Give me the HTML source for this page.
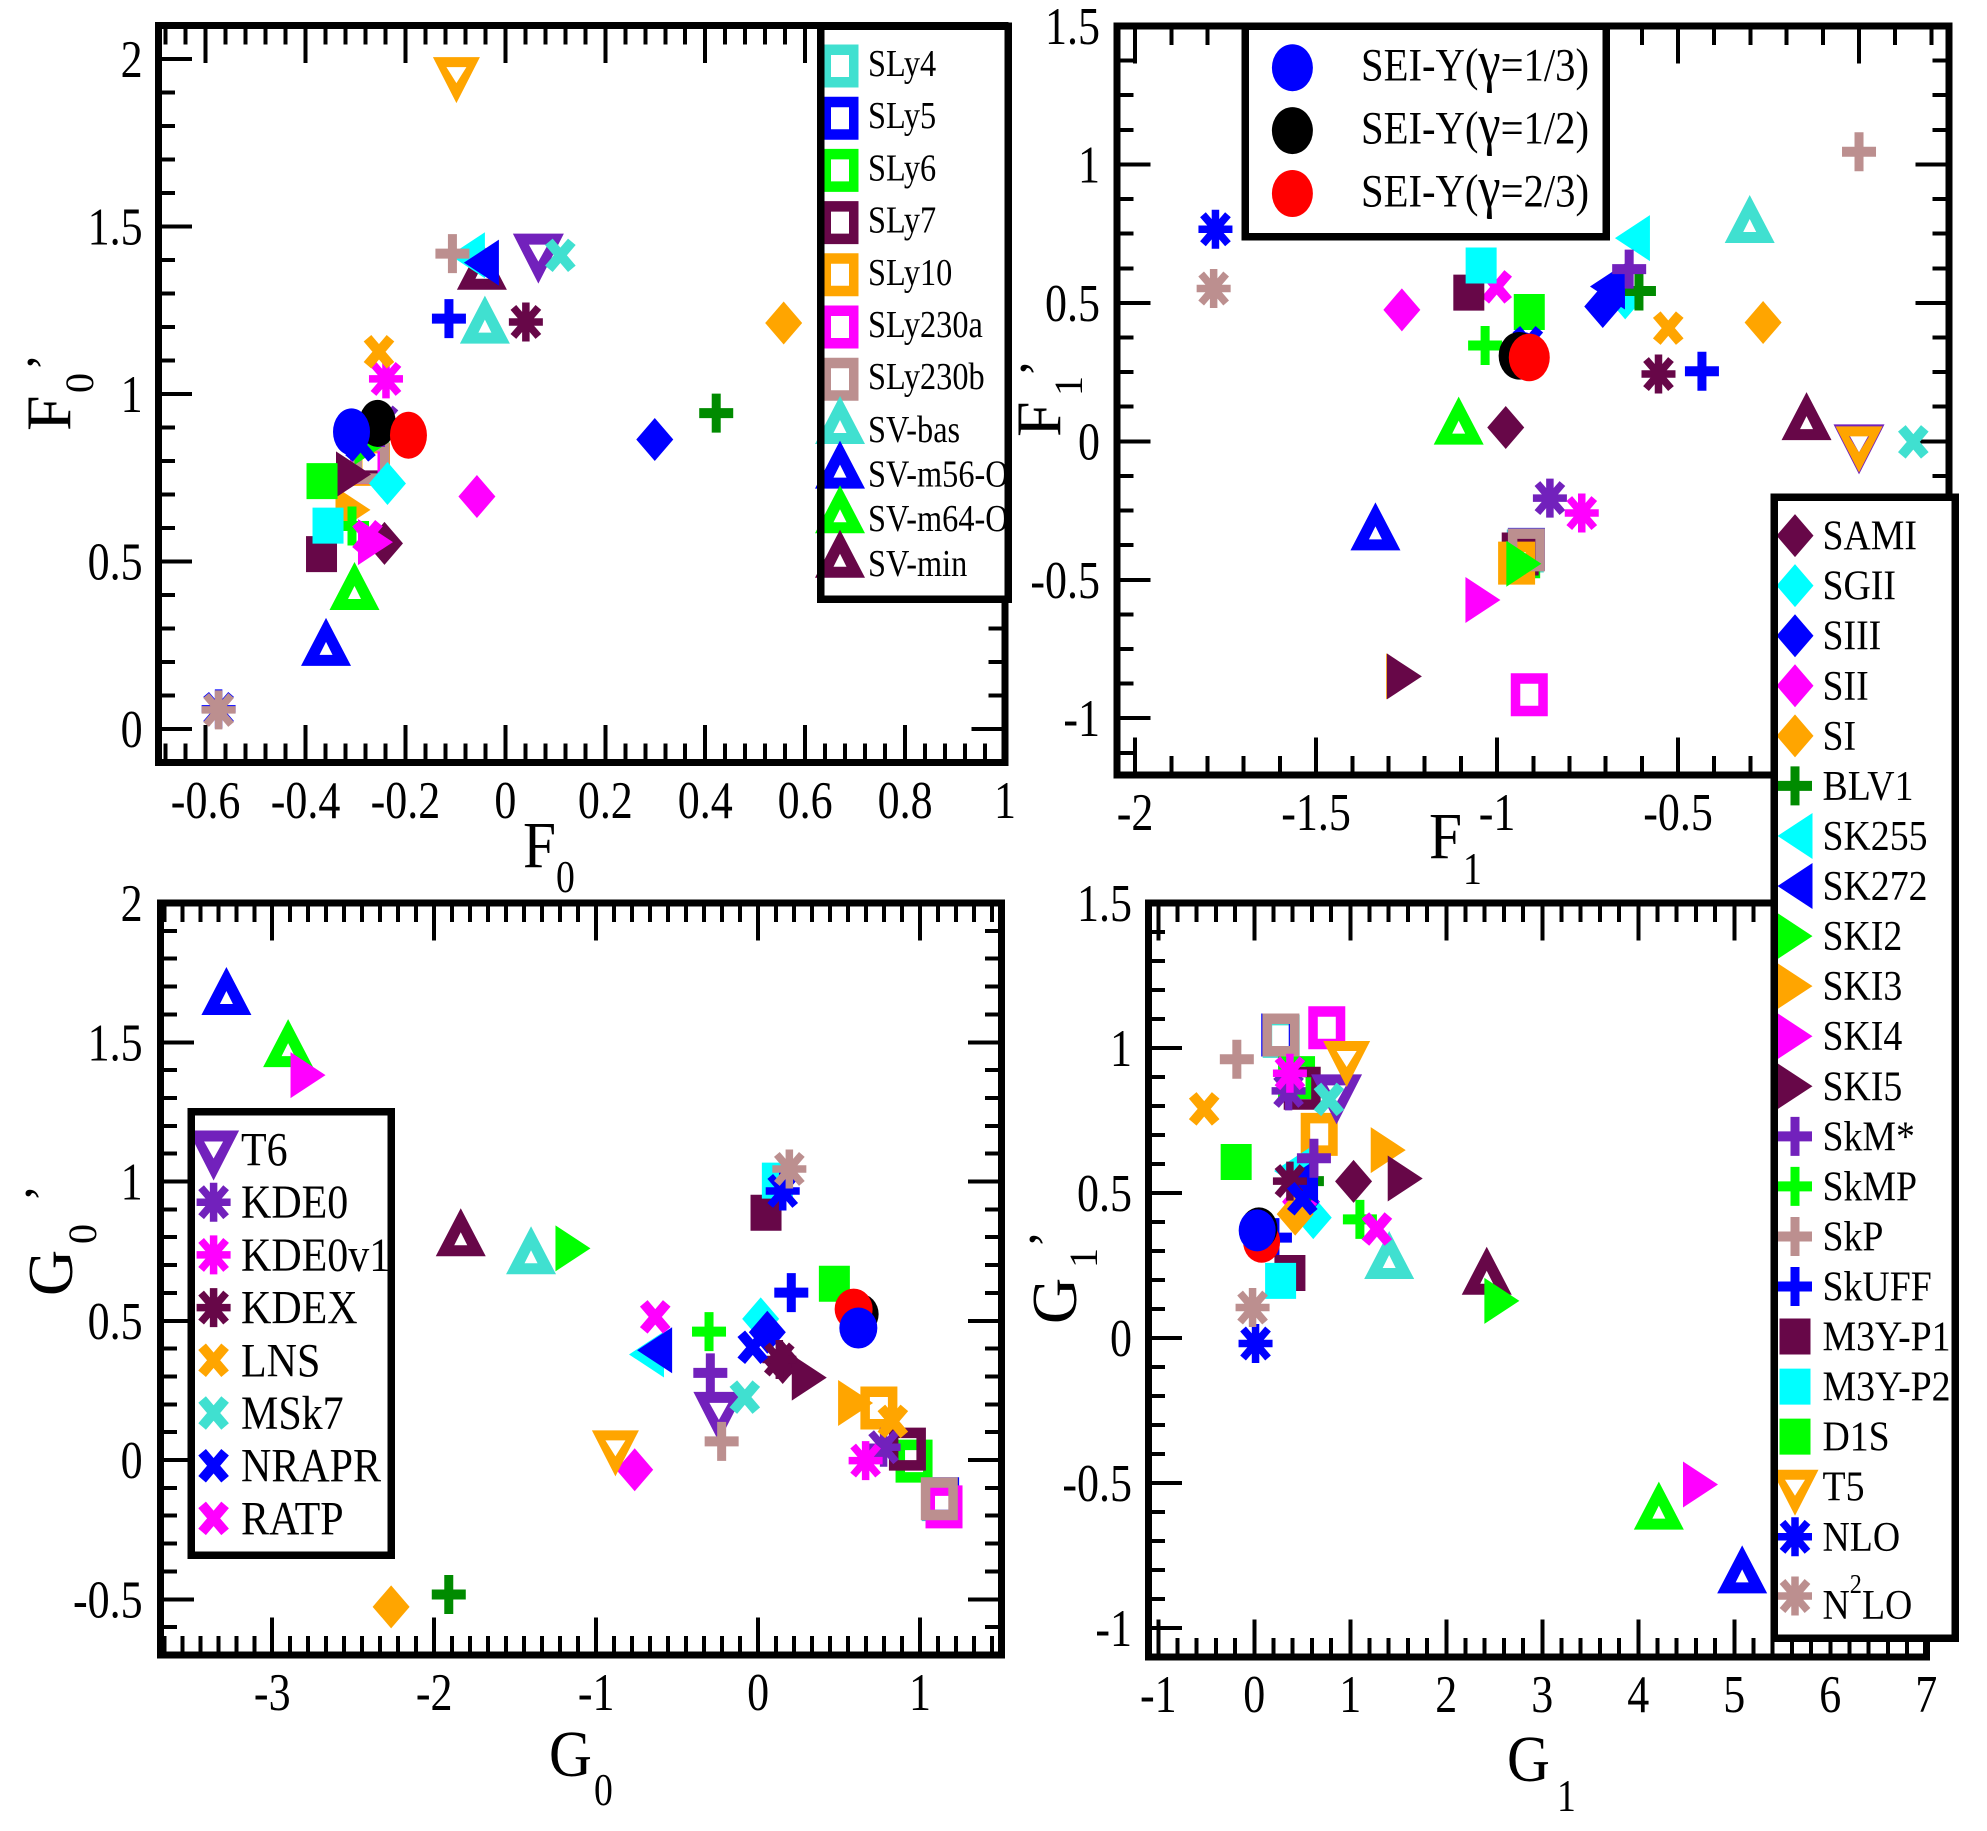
<!DOCTYPE html>
<html lang="en">
<head>
<meta charset="utf-8">
<title>Landau parameters scatter panels</title>
<style>
html,body{margin:0;padding:0;background:#fff;}
svg{display:block;}
text{font-family:"Liberation Serif","DejaVu Serif",serif;fill:#000;}
</style>
</head>
<body>
<svg id="figure" xmlns="http://www.w3.org/2000/svg" width="1987" height="1831" viewBox="0 0 1987 1831">
  <rect x="0" y="0" width="1987" height="1831" fill="#ffffff"/>
  <g id="panel-f0"></g>
  <g id="panel-f1"></g>
  <g id="panel-g0"></g>
  <g id="panel-g1"></g>
  <g id="legend-sly"></g>
  <g id="legend-sei"></g>
  <g id="legend-t6"></g>
  <g id="legend-skyrme"></g>
</svg>
<script>
// Series, in drawing order
const seriesNames = ['SLy4','SLy5','SLy6','SLy7','SLy10','SLy230a','SLy230b','SV-bas','SV-m56-O','SV-m64-O','SV-min','T6','SAMI','SGII','SIII','SII','SI','BLV1','SK255','SK272','SKI2','SKI3','SkM*','SkMP','RATP','SKI4','SKI5','SkP','SkUFF','M3Y-P1','M3Y-P2','D1S','T5','NLO','N2LO','KDE0','KDE0v1','KDEX','LNS','MSk7','NRAPR'];
const f0X = [-0.270,-0.272,-0.270,-0.272,-0.268,-0.274,-0.269,-0.041,-0.359,-0.302,-0.047,0.066,-0.242,-0.236,0.299,-0.057,0.557,0.422,-0.076,-0.048,-0.267,-0.305,-0.250,-0.307,-0.276,-0.260,-0.304,-0.106,-0.113,-0.368,-0.355,-0.367,-0.098,-0.574,-0.574,-0.245,-0.239,0.041,-0.253,0.110,-0.290];
const f0Y = [0.795,0.793,0.800,0.805,0.790,0.795,0.796,1.222,0.260,0.427,1.383,1.404,0.554,0.733,0.864,0.694,1.212,0.943,1.414,1.392,0.857,0.654,0.900,0.606,0.574,0.558,0.760,1.419,1.225,0.522,0.607,0.740,1.937,0.060,0.057,0.915,1.045,1.215,1.126,1.414,0.848];
const f1X = [-0.922,-0.919,-0.932,-0.936,-0.946,-0.911,-0.919,-0.302,-1.336,-1.106,-0.145,0.000,-0.976,-0.646,-0.708,-1.263,-0.265,-0.608,-0.626,-0.695,-0.926,-1.258,-0.635,-1.033,-1.001,-1.039,-1.256,0.000,-0.434,-1.078,-1.044,-0.911,0.000,-1.778,-1.783,-0.854,-0.766,-0.554,-0.527,0.150,-0.915];
const f1Y = [-0.396,-0.390,-0.417,-0.407,-0.440,-0.915,-0.392,0.803,-0.307,0.075,0.091,-0.029,0.050,0.518,0.487,0.475,0.429,0.543,0.734,0.559,-0.442,-0.849,0.622,0.346,0.558,-0.573,-0.849,1.046,0.253,0.537,0.635,0.467,-0.029,0.766,0.552,-0.205,-0.259,0.243,0.409,-0.002,0.356];
const g0X = [1.125,1.127,0.963,0.922,0.746,1.148,1.119,-1.402,-3.283,-2.902,-1.836,-0.242,0.152,0.016,0.057,-0.762,-2.266,-1.910,-0.689,-0.639,-1.143,0.602,-0.295,-0.303,-0.635,-2.779,0.316,-0.225,0.205,0.049,0.119,0.471,-0.881,0.152,0.193,0.775,0.664,0.131,0.832,-0.082,-0.033];
const g0Y = [-0.142,-0.139,-0.004,0.039,0.187,-0.168,-0.139,0.753,1.684,1.497,0.818,0.155,0.350,0.507,0.459,-0.035,-0.527,-0.483,0.379,0.394,0.760,0.205,0.313,0.461,0.514,1.382,0.296,0.067,0.601,0.888,1.003,0.633,0.024,0.966,1.045,0.046,-0.002,0.361,0.139,0.226,0.405];
const g1X = [0.280,0.265,0.440,0.499,0.676,0.755,0.277,1.405,5.082,4.214,2.421,0.857,1.034,0.614,0.490,0.482,0.426,0.548,0.388,0.482,2.579,1.395,0.621,1.100,1.277,4.648,1.572,-0.182,0.215,0.371,0.274,-0.189,0.962,0.013,-0.018,0.357,0.371,0.371,-0.522,0.777,0.500];
const g1Y = [1.040,1.045,0.898,0.861,0.702,1.070,1.045,0.286,-0.798,-0.578,0.232,0.823,0.540,0.415,0.470,0.470,0.427,0.541,0.576,0.541,0.128,0.648,0.620,0.409,0.376,-0.505,0.550,0.961,0.346,0.224,0.197,0.607,0.945,-0.019,0.105,0.852,0.913,0.541,0.790,0.823,0.480];

// SEI-Y points, index 0 = gamma 1/3, 1 = gamma 1/2, 2 = gamma 2/3
const seiPrefix = 'SEI-Y(';
const seiGamma = 'γ';
const seiSuffix = ['=1/3)','=1/2)','=2/3)'];
const seiF0X = [-0.308,-0.256,-0.194];
const seiF0Y = [0.887,0.9125,0.877];
const seiF1X = [-0.930,-0.939,-0.911];
const seiF1Y = [0.309,0.309,0.303];
const seiG0X = [0.619,0.627,0.590];
const seiG0Y = [0.474,0.524,0.542];
const seiG1X = [0.030,0.048,0.076];
const seiG1Y = [0.371,0.378,0.332];

// Tick labels
const f0XTicks = ['-0.6','-0.4','-0.2','0','0.2','0.4','0.6','0.8','1'];
const f0YTicks = ['0','0.5','1','1.5','2'];
const f1XTicks = ['-2','-1.5','-1','-0.5','0'];
const f1YTicks = ['-1','-0.5','0','0.5','1','1.5'];
const g0XTicks = ['-3','-2','-1','0','1'];
const g0YTicks = ['-0.5','0','0.5','1','1.5','2'];
const g1XTicks = ['-1','0','1','2','3','4','5','6','7'];
const g1YTicks = ['-1','-0.5','0','0.5','1','1.5'];

// Legend membership
const legendSly = ['SLy4','SLy5','SLy6','SLy7','SLy10','SLy230a','SLy230b','SV-bas','SV-m56-O','SV-m64-O','SV-min'];
const legendT6 = ['T6','KDE0','KDE0v1','KDEX','LNS','MSk7','NRAPR','RATP'];
const legendSkyrme = ['SAMI','SGII','SIII','SII','SI','BLV1','SK255','SK272','SKI2','SKI3','SKI4','SKI5','SkM*','SkMP','SkP','SkUFF','M3Y-P1','M3Y-P2','D1S','T5','NLO','N2LO'];

// Marker styling
const MAROON='#670748', TURQ='#40e0d0', TAN='#bc8f8f', VIOLET='#7221bc', ORANGE='#ffa500', GREEN='#00ff00', BLUE='#0000ff', CYAN='#00ffff', MAGENTA='#ff00ff', GREEN4='#008b00';
const styleOf = {
  'SLy4':['openSquare',TURQ],'SLy5':['openSquare',BLUE],'SLy6':['openSquare',GREEN],'SLy7':['openSquare',MAROON],'SLy10':['openSquare',ORANGE],'SLy230a':['openSquare',MAGENTA],'SLy230b':['openSquare',TAN],
  'SV-bas':['openUp',TURQ],'SV-m56-O':['openUp',BLUE],'SV-m64-O':['openUp',GREEN],'SV-min':['openUp',MAROON],
  'SAMI':['diamond',MAROON],'SGII':['diamond',CYAN],'SIII':['diamond',BLUE],'SII':['diamond',MAGENTA],'SI':['diamond',ORANGE],
  'BLV1':['plus',GREEN4],'SK255':['left',CYAN],'SK272':['left',BLUE],'SKI2':['right',GREEN],'SKI3':['right',ORANGE],'SKI4':['right',MAGENTA],'SKI5':['right',MAROON],
  'SkM*':['plus',VIOLET],'SkMP':['plus',GREEN],'SkP':['plus',TAN],'SkUFF':['plus',BLUE],
  'M3Y-P1':['square',MAROON],'M3Y-P2':['square',CYAN],'D1S':['square',GREEN],
  'T5':['openDown',ORANGE],'T6':['openDownLarge',VIOLET],'NLO':['star',BLUE],'N2LO':['star',TAN],'KDE0':['star',VIOLET],'KDE0v1':['star',MAGENTA],'KDEX':['star',MAROON],
  'LNS':['cross',ORANGE],'MSk7':['cross',TURQ],'NRAPR':['cross',BLUE],'RATP':['cross',MAGENTA]
};
const seiColors = [BLUE,'#000000','#ff0000'];

const SVG_NS = 'http://www.w3.org/2000/svg';
function mk(tag, parent){
  const el = document.createElementNS(SVG_NS, tag);
  parent.appendChild(el);
  return el;
}
function slug(s){
  return s.toLowerCase().replace(/\*/g,'-star').replace(/[^a-z0-9]+/g,'-').replace(/^-|-$/g,'');
}
function setAttrs(el, o){ for (const k in o) el.setAttribute(k, o[k]); }

function shapePath(shape, c, d){
  const P = (pts)=>'M'+pts.map(p=>(c+p[0]).toFixed(2)+','+(d+p[1]).toFixed(2)).join('L')+'Z';
  switch(shape){
    case 'square': return P([[-15.5,-18],[15.5,-18],[15.5,18],[-15.5,18]]);
    case 'openSquare': return P([[-18.5,-21.5],[18.5,-21.5],[18.5,21.5],[-18.5,21.5]])+P([[-9,-11],[-9,11],[9,11],[9,-11]]);
    case 'diamond': return P([[0,-21.5],[18.5,0],[0,21.5],[-18.5,0]]);
    case 'right': return P([[-17.5,-23],[17.5,0],[-17.5,23]]);
    case 'left': return P([[17.5,-23],[-17.5,0],[17.5,23]]);
    case 'openUp': return P([[0,-24],[25,24],[-25,24]])+P([[0,0],[-6.5,13],[6.5,13]]);
    case 'openDown': return P([[-23.5,-23],[23.5,-23],[0,23]])+P([[-10,-13],[0,3],[10,-13]]);
    case 'openDownLarge': return P([[-25.5,-25],[25.5,-25],[0,25]])+P([[-9.5,-14],[0,3],[9.5,-14]]);
    case 'plus': return P([[-4.5,-19.5],[4.5,-19.5],[4.5,-5],[17,-5],[17,5],[4.5,5],[4.5,19.5],[-4.5,19.5],[-4.5,5],[-17,5],[-17,-5],[-4.5,-5]]);
  }
  return '';
}
function strokePath(shape, c, d){
  const L=(a,b,e,f)=>'M'+(c+a)+','+(d+b)+'L'+(c+e)+','+(d+f);
  if (shape==='cross') return L(-11.5,-13.5,11.5,13.5)+L(11.5,-13.5,-11.5,13.5);
  return L(0,-19.5,0,19.5)+L(-17,0,17,0)+L(-12.5,-14.5,12.5,14.5)+L(12.5,-14.5,-12.5,14.5);
}
function drawMarker(parent, label, cx, cy){
  const st = styleOf[label];
  const el = mk('path', parent);
  
  
  if (st[0]==='cross' || st[0]==='star'){
    setAttrs(el,{d:strokePath(st[0],cx,cy),fill:'none',stroke:st[1],'stroke-width':st[0]==='cross'?10:7.5});
  } else {
    setAttrs(el,{d:shapePath(st[0],cx,cy),fill:st[1],'fill-rule':'evenodd'});
  }
}
function drawSei(parent, index, cx, cy, rx, ry){
  const el = mk('ellipse', parent);
  
  
  setAttrs(el,{cx:cx,cy:cy,rx:rx,ry:ry,fill:seiColors[index]});
}
function label(parent, name, str, x, y, size, sx, anchor){
  const el = mk('text', parent);
  
  
  setAttrs(el,{transform:'translate('+x+','+y+') scale('+sx+',1)','font-size':size,'text-anchor':anchor||'start'});
  el.textContent = str;
  return el;
}
function vLabel(parent, name, str, x, y, size){
  const el = mk('text', parent);
  
  
  setAttrs(el,{transform:'translate('+x+','+y+') rotate(-90)','font-size':size});
  el.textContent = str;
  return el;
}
function tickLine(parent, name, x1, y1, x2, y2){
  const el = mk('line', parent);
  
  
  setAttrs(el,{x1:x1,y1:y1,x2:x2,y2:y2,stroke:'#000','stroke-width':4,'shape-rendering':'crispEdges'});
}

function drawPanel(cfg){
  const g = document.getElementById(cfg.id);
  const sx = v => cfg.left + (v-cfg.xmin)/(cfg.xmax-cfg.xmin)*(cfg.right-cfg.left);
  const sy = v => cfg.bottom - (v-cfg.ymin)/(cfg.ymax-cfg.ymin)*(cfg.bottom-cfg.top);

  const xMaj = cfg.xTicks.map(Number), yMaj = cfg.yTicks.map(Number);
  const n0 = Math.ceil((cfg.xmin-xMaj[0])/cfg.xMinor-1e-6), n1 = Math.floor((cfg.xmax-xMaj[0])/cfg.xMinor+1e-6);
  for (let i=n0;i<=n1;i++){
    const v = xMaj[0]+i*cfg.xMinor, px = sx(v);
    const major = Math.abs(Math.round(i*cfg.xMinor/cfg.xStep)*cfg.xStep - i*cfg.xMinor) < 1e-6;
    const len = major?37.5:19;
    tickLine(g,'x-tick-bottom',px,cfg.bottom,px,cfg.bottom-len);
    tickLine(g,'x-tick-top',px,cfg.top,px,cfg.top+len);
  }
  const m0 = Math.ceil((cfg.ymin-yMaj[0])/cfg.yMinor-1e-6), m1 = Math.floor((cfg.ymax-yMaj[0])/cfg.yMinor+1e-6);
  for (let i=m0;i<=m1;i++){
    const v = yMaj[0]+i*cfg.yMinor, py = sy(v);
    const major = Math.abs(Math.round(i*cfg.yMinor/cfg.yStep)*cfg.yStep - i*cfg.yMinor) < 1e-6;
    const len = major?33.5:16.5;
    tickLine(g,'y-tick-left',cfg.left,py,cfg.left+len,py);
    tickLine(g,'y-tick-right',cfg.right,py,cfg.right-len,py);
  }
  const frame = mk('rect', g);
  
  
  setAttrs(frame,{x:cfg.left,y:cfg.top,width:cfg.right-cfg.left,height:cfg.bottom-cfg.top,fill:'none',stroke:'#000','stroke-width':7,'shape-rendering':'crispEdges'});

  cfg.xTicks.forEach((t,i)=>label(g,'x-tick-label',t,sx(xMaj[i]),cfg.xLabelY,53,0.83,'middle'));
  cfg.yTicks.forEach((t,i)=>label(g,'y-tick-label',t,cfg.yLabelX,sy(yMaj[i])+18,53,0.83,'end'));

  label(g,'x-axis-title',cfg.title[0],cfg.xt[0],cfg.xt[1],66,0.9);
  label(g,'x-axis-title-subscript',cfg.title[1],cfg.xt[2],cfg.xt[3],46,0.82);
  vLabel(g,'y-axis-title',cfg.title[0],cfg.yt[0],cfg.yt[1],64);
  vLabel(g,'y-axis-title-subscript',cfg.title[1],cfg.yt[2],cfg.yt[3],40);
  vLabel(g,'y-axis-title-prime','’',cfg.yt[4],cfg.yt[5],52);

  seriesNames.forEach((n,i)=>drawMarker(g,n,sx(cfg.xs[i]),sy(cfg.ys[i])));
  cfg.seiOrder.forEach(i=>drawSei(g,i,sx(cfg.seiX[i]),sy(cfg.seiY[i]),cfg.rx,cfg.ry));
}

drawPanel({id:'panel-f0',left:158.5,right:1005,top:25.5,bottom:762.5,xmin:-0.6943,xmax:1,ymin:-0.1,ymax:2.1,
  xTicks:f0XTicks,yTicks:f0YTicks,xStep:0.2,xMinor:0.04,yStep:0.5,yMinor:0.1,xLabelY:818,yLabelX:142.6,
  title:['F','0'],xt:[523,867,556,892],yt:[70,431,93,393,62,371],xs:f0X,ys:f0Y,seiX:seiF0X,seiY:seiF0Y,seiOrder:[1,2,0],rx:18.5,ry:23.5});
drawPanel({id:'panel-f1',left:1117,right:1949,top:26,bottom:775,xmin:-2.05,xmax:0.2486,ymin:-1.205,ymax:1.5,
  xTicks:f1XTicks,yTicks:f1YTicks,xStep:0.5,xMinor:0.1,yStep:0.5,yMinor:0.125,xLabelY:830,yLabelX:1100,
  title:['F','1'],xt:[1429,858,1463,884],yt:[1060,437,1082,396,1055,377],xs:f1X,ys:f1Y,seiX:seiF1X,seiY:seiF1Y,seiOrder:[0,1,2],rx:20.5,ry:23.8});
drawPanel({id:'panel-g0',left:160.5,right:1001.5,top:903,bottom:1655,xmin:-3.69,xmax:1.503,ymin:-0.7,ymax:2,
  xTicks:g0XTicks,yTicks:g0YTicks,xStep:1,xMinor:1/9,yStep:0.5,yMinor:0.1,xLabelY:1710,yLabelX:142.6,
  title:['G','0'],xt:[549,1776,594,1805],yt:[72,1296,96,1244,60,1202],xs:g0X,ys:g0Y,seiX:seiG0X,seiY:seiG0Y,seiOrder:[1,2,0],rx:19,ry:20.5});
drawPanel({id:'panel-g1',left:1148.7,right:1926.3,top:903,bottom:1657,xmin:-1.1,xmax:7,ymin:-1.1,ymax:1.5,
  xTicks:g1XTicks,yTicks:g1YTicks,xStep:1,xMinor:0.2,yStep:0.5,yMinor:0.1,xLabelY:1712,yLabelX:1132,
  title:['G','1'],xt:[1507,1781,1557,1811],yt:[1076,1324,1097,1268,1064,1248],xs:g1X,ys:g1Y,seiX:seiG1X,seiY:seiG1Y,seiOrder:[2,1,0],rx:18.5,ry:21});

function legendBox(g, x0, y0, x1, y1, stage){
  const el = mk('rect', g);
  
  
  setAttrs(el,{x:x0,y:y0,width:x1-x0,height:y1-y0,'shape-rendering':'crispEdges'});
  if (stage==='fill') setAttrs(el,{fill:'#fff'});
  else setAttrs(el,{fill:'none',stroke:'#000','stroke-width':7.5});
}
const markerShift = {openUp:-12, openDown:6, openDownLarge:6};
function drawLegend(id, names, box, markerX, textX, rowY, textDy, size, scaleX){
  const g = document.getElementById(id);
  legendBox(g,box[0],box[1],box[2],box[3],'fill');
  names.forEach((n,i)=>{
    const y = rowY(i);
    drawMarker(g,n,markerX,y+(markerShift[styleOf[n][0]]||0));
    if (n==='N2LO'){
      const t = label(g,'legend-label-n2lo','N',textX,y+23,size,scaleX);
      const sup = mk('tspan', t);
      
      
      setAttrs(sup,{dy:-26,'font-size':27});
      sup.textContent = '2';
      const rest = mk('tspan', t);
      
      
      setAttrs(rest,{dy:26});
      rest.textContent = 'LO';
    } else {
      label(g,'legend-label-'+slug(n),n,textX,y+textDy,size,scaleX);
    }
  });
  legendBox(g,box[0],box[1],box[2],box[3],'stroke');
}

drawLegend('legend-sly',legendSly,[820.5,26,1008,599],840,868,
  i=> i<7 ? 66+52.2*i : 432+44.6*(i-7),10,38,0.85);
drawLegend('legend-t6',legendT6,[191,1111.5,391,1555],213.6,241,
  i=>1149.5+52.7*i,16,48,0.875);
drawLegend('legend-skyrme',legendSkyrme,[1774,497,1955,1638],1795,1822.5,
  i=> i===21 ? 1596 : 535.6+50.06*i,14,42,0.9);

(function(){
  const g = document.getElementById('legend-sei');
  legendBox(g,1245,26,1606,236.5,'fill');
  seiSuffix.forEach((suffix,i)=>{
    const y = 67.7+62.9*i;
    drawSei(g,i,1292.4,y,20.5,23.5);
    const t = label(g,'legend-label-sei-y-'+i,seiPrefix,1361,y+13,47,0.865);
    const gam = mk('tspan', t);
    
    
    setAttrs(gam,{'font-size':58});
    gam.textContent = seiGamma;
    const rest = mk('tspan', t);
    
    
    rest.textContent = suffix;
  });
  legendBox(g,1245,26,1606,236.5,'stroke');
})();
</script>
</body>
</html>
